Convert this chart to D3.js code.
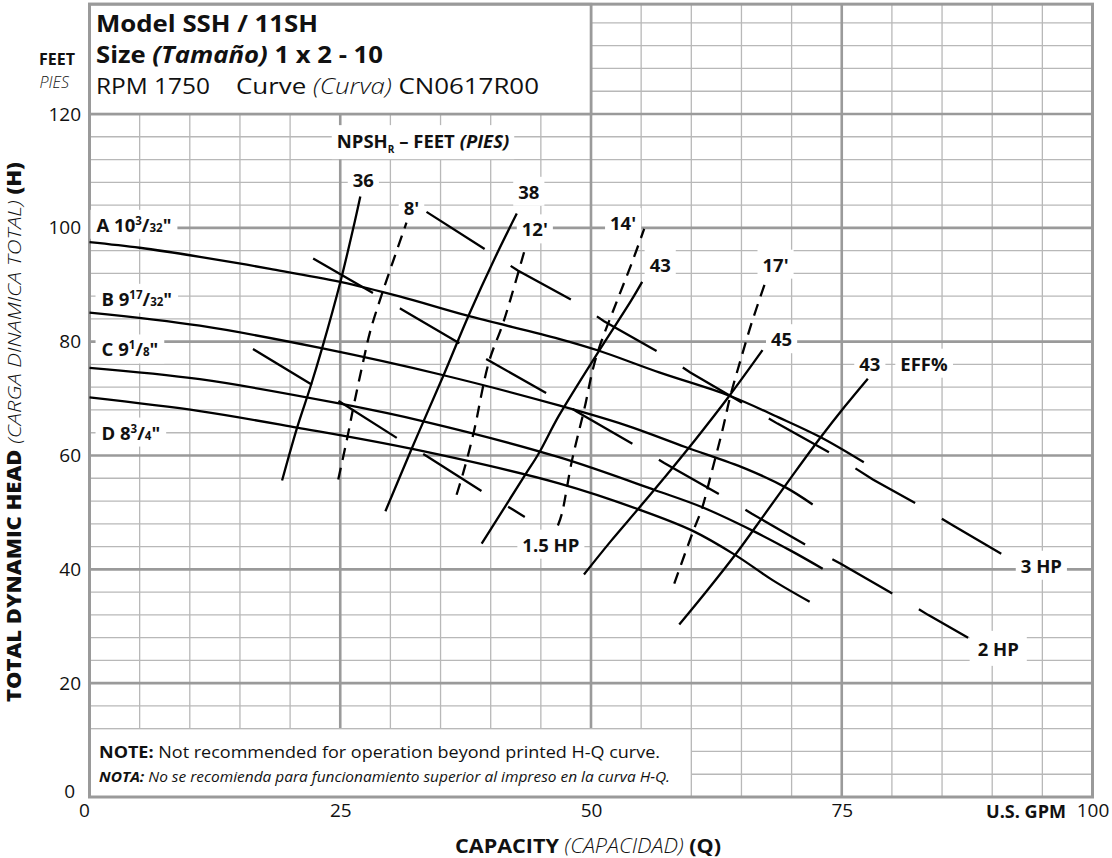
<!DOCTYPE html>
<html>
<head>
<meta charset="utf-8">
<script src="https://cdn.jsdelivr.net/npm/d3@7"></script>
<style>
  body { margin: 0; background: #fff; }
  svg text { font-family: "Open Sans", Lato, sans-serif; fill: #111; }
</style>
</head>
<body>
<svg id="chart" width="1112" height="858"></svg>
<script>
// ---- data (GPM, feet) ----
var curveA = [[0,97.5],[5,96.5],[11,94.9],[18,92.8],[25,90.5],[31,87.9],[37.6,84.6],[46.8,80.5],[50.8,78.4],[56.8,74.6],[63.8,70.5],[68.7,66.7],[72.9,63.2],[77.2,58.8]];
var curveB = [[0,85.1],[11,82.8],[23,78.9],[35.3,74.1],[46.8,68.8],[53.5,65.3],[59.4,61.5],[65.4,57.7],[69.4,54.4],[72.1,51.4]];
var curveC = [[0,75.4],[11,73.4],[25,69.1],[33.3,66],[46.8,59.7],[56.4,53.9],[61.1,50.9],[66.1,46.8],[70,43.2],[73.1,40.1]];
var curveD = [[0,70.2],[11,67.8],[20.7,64.9],[32.3,61.1],[46.8,55.1],[54.8,50.5],[60.1,46.8],[64.4,42.5],[68.1,38.1],[71.8,34.3]];

// efficiency lines
var eff36 = [[19.2,55.6],[20.7,64.9],[22,71.9],[23.2,78.9],[25,90.4],[26.5,101.5],[27,105.5]];
var eff38 = [[29.5,50.2],[32.1,61.1],[33.3,66],[35.3,74.1],[37.8,84.6],[40.5,95],[42.6,102.5]];
var eff43a = [[39.1,44.5],[43.4,56.5],[44.8,60.4],[46.8,67],[50.8,78.4],[54,87.2],[55.1,90.5]];
var eff45 = [[49.3,39.1],[52,45],[54.8,50.8],[57.5,56.5],[60.5,63],[63.8,70.5],[67.1,78.5]];
var eff43b = [[58.8,30.3],[61.5,36.1],[64.4,42.6],[67.2,49.4],[70.1,56.5],[72.9,63.2],[75.3,68.6],[77.6,73.5]];

// NPSHr lines
var npsh8 = [[24.8,55.8],[25.7,63.1],[26.3,68.4],[27.3,76.6],[28,81.9],[29.2,88.6],[31.6,100.9]];
var npsh12 = [[36.6,53.1],[37.3,57.2],[38.3,64],[39.8,76.3],[41.3,83.6],[43.5,96.8]];
var npsh14 = [[46.7,47.7],[47.1,49.8],[48.1,59.1],[49.3,67.9],[50.5,77.2],[52.6,87.2],[54,93.5],[55.3,99.8]];
var npsh17 = [[58.3,37.5],[60.1,46.3],[61.1,50.9],[61.9,56.2],[63.1,64.4],[63.9,70.5],[64.9,76.7],[66,83.2],[67.3,90]];

// horsepower lines
var hp15 = [[16.3,78.7],[22.2,72.4],[25,69.4],[30.9,62.8],[33.6,59.9],[39.4,53.4],[42.2,50.5],[43.4,49.2]];
var hp2 = [[22.3,94.6],[28.3,88.5],[31.1,85.7],[37.1,79.5],[39.9,76.6],[45.9,70.6],[48.6,67.7],[54.6,61.6],[57.3,58.7],[63.4,52.6],[66,49.8],[72,43.7],[74.9,41],[80.8,35],[83.6,32],[87.6,28]];
var hp3 = [[33.6,102.8],[39.9,95.7],[42.7,92.5],[48.6,86.8],[51.3,83.6],[57.3,77.6],[59.9,74.6],[65.9,68.4],[68.6,65.6],[74.7,59.6],[78.1,55.8],[83.4,50.6],[86.1,47.7],[92.1,41.5]];

var xTicks = [0, 25, 50, 75, 100];
var yTicks = [0, 20, 40, 60, 80, 100, 120];

// ---- scales ----
var x = d3.scaleLinear().domain([0, 100]).range([89.5, 1092.5]);
var y = d3.scaleLinear().domain([0, 120]).range([797, 114]);
var yTop = 139.3; // top of the printed frame

var svg = d3.select("#chart");

var minorCol = "#b8b8b8", majorCol = "#9a9a9a";

// grid
var grid = svg.append("g");
var vx = d3.range(5, 100, 5);
var hy = d3.range(4, 139, 4);
grid.selectAll(".vminor").data(vx.filter(function(d) { return d % 25 !== 0; }))
  .enter().append("line")
  .attr("x1", x).attr("x2", x).attr("y1", y(0)).attr("y2", y(yTop))
  .attr("stroke", minorCol).attr("stroke-width", 1.3);
grid.selectAll(".hminor").data(hy.filter(function(d) { return d % 20 !== 0; }))
  .enter().append("line")
  .attr("x1", x(0)).attr("x2", x(100)).attr("y1", y).attr("y2", y)
  .attr("stroke", minorCol).attr("stroke-width", 1.3);
grid.selectAll(".vmajor").data([25, 50, 75])
  .enter().append("line")
  .attr("x1", x).attr("x2", x).attr("y1", y(0)).attr("y2", y(yTop))
  .attr("stroke", majorCol).attr("stroke-width", 2.6);
grid.selectAll(".hmajor").data([20, 40, 60, 80, 100, 120])
  .enter().append("line")
  .attr("x1", x(0)).attr("x2", x(100)).attr("y1", y).attr("y2", y)
  .attr("stroke", majorCol).attr("stroke-width", 2.6);

// note box (bottom left) and title box (top left)
svg.append("rect")
  .attr("x", x(0)).attr("y", y(12)).attr("width", x(60) - x(0)).attr("height", y(0) - y(12))
  .attr("fill", "#fff").attr("stroke", minorCol).attr("stroke-width", 1.3);
svg.append("rect")
  .attr("x", x(0)).attr("y", y(yTop)).attr("width", x(50) - x(0)).attr("height", y(120) - y(yTop))
  .attr("fill", "#fff").attr("stroke", majorCol).attr("stroke-width", 2.6);

// outer frame
svg.append("rect")
  .attr("x", x(0)).attr("y", y(yTop)).attr("width", x(100) - x(0)).attr("height", y(0) - y(yTop))
  .attr("fill", "none").attr("stroke", majorCol).attr("stroke-width", 3);

// ---- labels with white boxes behind them ----
var labelLayer = svg.append("g");
function boxLabel(txt, gx, fy, anchor, padX, padY) {
  var g = labelLayer.append("g");
  var t = g.append("text")
    .attr("x", x(gx)).attr("y", y(fy))
    .attr("text-anchor", anchor || "middle")
    .attr("font-size", 18.5).attr("font-weight", 700);
  if (typeof txt === "string") t.text(txt);
  else txt(t);
  var b = t.node().getBBox();
  var px = padX == null ? 5 : padX, py = padY == null ? 2 : padY;
  g.insert("rect", "text")
    .attr("x", b.x - px).attr("y", b.y - py)
    .attr("width", b.width + 2 * px).attr("height", b.height + 2 * py)
    .attr("fill", "#fff");
  return t;
}

// impeller diameter labels
function frac(lead, num, den) {
  return function(t) {
    t.append("tspan").text(lead);
    t.append("tspan").attr("font-size", 11.5).attr("dy", -7).text(num);
    t.append("tspan").attr("dy", 7).text("/");
    t.append("tspan").attr("font-size", 11.5).text(den);
    t.append("tspan").text("\"");
  };
}
boxLabel(frac("A 10", "3", "32"), 0.7, 99.3, "start", 6, 2);
boxLabel(frac("B 9", "17", "32"), 1.2, 86.3, "start", 6, 2);
boxLabel(frac("C 9", "1", "8"), 1.2, 77.4, "start", 6, 2);
boxLabel(frac("D 8", "3", "4"), 1.2, 62.8, "start", 6, 2);

boxLabel(function(t) {
  t.append("tspan").text("NPSH");
  t.append("tspan").attr("font-size", 10).attr("dy", 5).text("R");
  t.append("tspan").attr("dy", -5).text(" \u2013 FEET ");
  t.append("tspan").attr("font-style", "italic").text("(PIES)");
}, 33.25, 114.0, "middle", 5, 3);

boxLabel("36", 27.3, 107.1);
boxLabel("8'", 32.1, 102.3);
boxLabel("38", 43.8, 105.1);
boxLabel("12'", 44.4, 98.5);
boxLabel("14'", 53.2, 99.6);
boxLabel("43", 56.9, 92.3);
boxLabel("17'", 68.4, 92.3);
boxLabel("45", 69.0, 79.2);
boxLabel("43", 77.8, 74.9);
boxLabel("EFF%", 83.2, 74.9);
boxLabel("1.5 HP", 46.0, 43.1);
boxLabel("3 HP", 94.9, 39.4);
boxLabel("2 HP", 90.6, 24.8, "middle", 8, 5);

// ---- curves ----
var smooth = d3.line().x(function(d) { return x(d[0]); }).y(function(d) { return y(d[1]); })
  .curve(d3.curveCatmullRom.alpha(0.5));
var straight = d3.line().x(function(d) { return x(d[0]); }).y(function(d) { return y(d[1]); });

var lines = svg.append("g").attr("fill", "none").attr("stroke", "#000").attr("stroke-width", 2.3);
[curveA, curveB, curveC, curveD, eff36, eff38, eff43a, eff45, eff43b].forEach(function(c) {
  lines.append("path").attr("d", smooth(c));
});
[npsh8, npsh12, npsh14, npsh17].forEach(function(c) {
  lines.append("path").attr("d", smooth(c)).attr("stroke-dasharray", "12,8");
});
[hp15, hp2, hp3].forEach(function(c) {
  lines.append("path").attr("d", straight(c)).attr("stroke-dasharray", "69,31");
});

// ---- axes (tick labels only) ----
var yAxis = svg.append("g").attr("transform", "translate(" + x(0) + ",0)")
  .call(d3.axisLeft(y).tickValues(yTicks).tickSize(0).tickPadding(8.5));
yAxis.select(".domain").remove();
yAxis.selectAll("text").attr("font-size", 19).attr("font-family", "'Open Sans', sans-serif").attr("fill", "#111");
yAxis.selectAll(".tick").filter(function(d) { return d === 0; }).select("text")
  .attr("dx", -6).attr("dy", "0.05em");

var xAxis = svg.append("g").attr("transform", "translate(0," + y(0) + ")")
  .call(d3.axisBottom(x).tickValues(xTicks).tickSize(0).tickPadding(6));
xAxis.select(".domain").remove();
xAxis.selectAll("text").attr("font-size", 19).attr("font-family", "'Open Sans', sans-serif").attr("fill", "#111");
xAxis.selectAll(".tick").filter(function(d) { return d === 0; }).select("text").attr("dx", -5.5);

svg.append("text").attr("x", 986).attr("y", 818)
  .attr("font-size", 17).attr("font-weight", 700).attr("textLength", 80).attr("lengthAdjust", "spacingAndGlyphs")
  .text("U.S. GPM");

// axis titles
var xt = svg.append("text").attr("x", 455).attr("y", 853).attr("font-size", 19.5)
  .attr("textLength", 266).attr("lengthAdjust", "spacingAndGlyphs");
xt.append("tspan").attr("font-weight", 700).text("CAPACITY ");
xt.append("tspan").attr("font-style", "italic").attr("font-weight", 300).text("(CAPACIDAD) ");
xt.append("tspan").attr("font-weight", 700).text("(Q)");

var yt = svg.append("text").attr("transform", "translate(21,702) rotate(-90)")
  .attr("font-size", 19).attr("textLength", 540).attr("lengthAdjust", "spacingAndGlyphs");
yt.append("tspan").attr("font-weight", 800).text("TOTAL DYNAMIC HEAD ");
yt.append("tspan").attr("font-style", "italic").attr("font-weight", 300).text("(CARGA DINAMICA TOTAL) ");
yt.append("tspan").attr("font-weight", 800).text("(H)");

svg.append("text").attr("x", 75).attr("y", 65).attr("text-anchor", "end")
  .attr("font-size", 16).attr("font-weight", 700).text("FEET");
svg.append("text").attr("x", 69).attr("y", 88).attr("text-anchor", "end")
  .attr("font-size", 16).attr("font-style", "italic").attr("font-weight", 300).text("PIES");

// ---- title block ----
svg.append("text").attr("x", 96).attr("y", 31.7).attr("font-size", 23.5).attr("font-weight", 700)
  .attr("textLength", 222).attr("lengthAdjust", "spacingAndGlyphs").text("Model SSH / 11SH");
var t2 = svg.append("text").attr("x", 96).attr("y", 63.3).attr("font-size", 23.5).attr("font-weight", 700)
  .attr("textLength", 287).attr("lengthAdjust", "spacingAndGlyphs");
t2.append("tspan").text("Size ");
t2.append("tspan").attr("font-style", "italic").text("(Tamaño)");
t2.append("tspan").text(" 1 x 2 - 10");
svg.append("text").attr("x", 96).attr("y", 94).attr("font-size", 21.5).attr("font-weight", 400)
  .attr("textLength", 114).attr("lengthAdjust", "spacingAndGlyphs").text("RPM 1750");
var t3 = svg.append("text").attr("x", 236).attr("y", 94).attr("font-size", 21.5).attr("font-weight", 400)
  .attr("textLength", 303).attr("lengthAdjust", "spacingAndGlyphs");
t3.append("tspan").text("Curve ");
t3.append("tspan").attr("font-style", "italic").attr("font-weight", 300).text("(Curva)");
t3.append("tspan").text(" CN0617R00");

// ---- note ----
var n1 = svg.append("text").attr("x", 99).attr("y", 758.3).attr("font-size", 16.5)
  .attr("textLength", 561).attr("lengthAdjust", "spacingAndGlyphs");
n1.append("tspan").attr("font-weight", 700).text("NOTE:");
n1.append("tspan").text(" Not recommended for operation beyond printed H-Q curve.");
var n2 = svg.append("text").attr("x", 99).attr("y", 781.7).attr("font-size", 14).attr("font-style", "italic")
  .attr("textLength", 571).attr("lengthAdjust", "spacingAndGlyphs");
n2.append("tspan").attr("font-weight", 700).text("NOTA:");
n2.append("tspan").attr("font-weight", 400).text(" No se recomienda para funcionamiento superior al impreso en la curva H-Q.");
</script>
</body>
</html>
